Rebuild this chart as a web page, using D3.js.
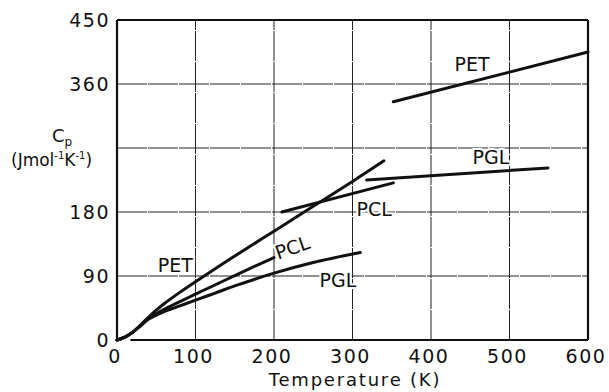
<!DOCTYPE html>
<html>
<head>
<meta charset="utf-8">
<script src="https://cdn.jsdelivr.net/npm/d3@7"></script>
<style>
  body { margin: 0; background: #fff; }
  text { font-family: "DejaVu Sans", sans-serif; fill: #111; }
</style>
</head>
<body>
<svg id="canvas" width="609" height="392"></svg>
<script>
// axis ticks
let tempTicks = [0, 100, 200, 300, 400, 500, 600]
let cpTicks = [0, 90, 180, 270, 360, 450]
let cpTickLabels = ['0', '90', '180', '', '360', '450']

// low temperature curves (K, J/mol/K)
let petLowT = [0, 10, 20, 30, 40, 50, 60, 80, 100, 150, 200, 250, 300, 340]
let petLowCp = [0, 4, 11, 21, 32, 42, 51, 67, 82, 118, 153, 188, 223, 252]
let pclLowT = [0, 10, 20, 30, 40, 50, 60, 80, 100, 125, 150, 175, 200]
let pclLowCp = [0, 4, 11, 20, 30, 37, 43, 54, 64.5, 77.5, 90.5, 103.5, 116]
let pglLowT = [0, 10, 20, 30, 40, 50, 60, 80, 100, 125, 150, 200, 250, 310]
let pglLowCp = [0, 4, 11, 20, 29, 35, 40, 48, 56, 66, 76, 94, 109, 123]

// high temperature lines
let petHighT = [352, 600]
let petHighCp = [335, 405]
let pglHighT = [318, 549]
let pglHighCp = [225, 242]
let pclHighT = [210, 352]
let pclHighCp = [180, 221]

let canvas = d3.select('#canvas')

let xScale = d3.scaleLinear().domain([0, 600]).range([117, 588])
let yScale = d3.scaleLinear().domain([0, 450]).range([340, 20])

// grid
canvas.selectAll('.vgrid')
    .data(tempTicks.slice(1, -1))
    .enter()
    .append('line')
    .attr('x1', (t) => xScale(t))
    .attr('x2', (t) => xScale(t))
    .attr('y1', yScale(0))
    .attr('y2', yScale(450))
    .attr('stroke', '#222')
    .attr('stroke-width', 1)
    .attr('stroke-dasharray', '30,1')

canvas.selectAll('.hgrid')
    .data(cpTicks.slice(1, -1))
    .enter()
    .append('line')
    .attr('x1', xScale(0))
    .attr('x2', xScale(600))
    .attr('y1', (c) => yScale(c))
    .attr('y2', (c) => yScale(c))
    .attr('stroke', '#222')
    .attr('stroke-width', 1)
    .attr('stroke-dasharray', '30,1')

// frame
let frame = canvas.append('g').attr('stroke', '#111').attr('stroke-width', 2.2).attr('fill', 'none')
frame.append('line').attr('x1', xScale(0)).attr('x2', xScale(0)).attr('y1', yScale(0)).attr('y2', yScale(450))
frame.append('line').attr('x1', xScale(0)).attr('x2', xScale(600)).attr('y1', yScale(450)).attr('y2', yScale(450))
frame.append('line').attr('x1', xScale(600)).attr('x2', xScale(600)).attr('y1', yScale(0)).attr('y2', yScale(450))
frame.append('line').attr('x1', xScale(17)).attr('x2', xScale(600)).attr('y1', yScale(0)).attr('y2', yScale(0))

// tick labels
canvas.selectAll('.ylab')
    .data(cpTicks)
    .enter()
    .append('text')
    .attr('x', 110)
    .attr('y', (c) => yScale(c) + 7)
    .attr('text-anchor', 'end')
    .attr('font-size', 19)
    .attr('letter-spacing', 1.5)
    .text((c, i) => cpTickLabels[i])

canvas.selectAll('.xlab')
    .data(tempTicks)
    .enter()
    .append('text')
    .attr('x', (t) => xScale(t) - 2)
    .attr('y', 363)
    .attr('text-anchor', 'middle')
    .attr('font-size', 19)
    .attr('letter-spacing', 1.5)
    .text((t) => t)

canvas.append('text')
    .attr('x', 355)
    .attr('y', 386)
    .attr('text-anchor', 'middle')
    .attr('font-size', 18)
    .attr('letter-spacing', 1.8)
    .text('Temperature  (K)')

let cpLabel = canvas.append('text')
    .attr('x', 52)
    .attr('y', 142)
    .attr('font-size', 18)
cpLabel.append('tspan').text('C')
cpLabel.append('tspan').attr('font-size', 12).attr('dy', 4).text('p')

let unitLabel = canvas.append('text')
    .attr('x', 11)
    .attr('y', 166)
    .attr('font-size', 17)
unitLabel.append('tspan').text('(Jmol')
unitLabel.append('tspan').attr('font-size', 10).attr('dy', -7).text('-1')
unitLabel.append('tspan').attr('dy', 7).text('K')
unitLabel.append('tspan').attr('font-size', 10).attr('dy', -7).text('-1')
unitLabel.append('tspan').attr('dy', 7).text(')')

// curves
let lineGen = d3.line()
    .x((d) => xScale(d[0]))
    .y((d) => yScale(d[1]))
    .curve(d3.curveCatmullRom.alpha(0.5))

let series = [
    [petLowT, petLowCp],
    [pclLowT, pclLowCp],
    [pglLowT, pglLowCp],
    [petHighT, petHighCp],
    [pglHighT, pglHighCp],
    [pclHighT, pclHighCp]
]

canvas.selectAll('.curve')
    .data(series)
    .enter()
    .append('path')
    .attr('d', (s) => lineGen(s[0].map((t, i) => [t, s[1][i]])))
    .attr('fill', 'none')
    .attr('stroke', '#111')
    .attr('stroke-width', 3)
    .attr('stroke-linecap', 'round')
    .attr('stroke-linejoin', 'round')

// curve labels
let labels = [
    {text: 'PET', t: 430, c: 378, rot: 0},
    {text: 'PGL', t: 453, c: 247, rot: 0},
    {text: 'PCL', t: 305, c: 174, rot: 0},
    {text: 'PCL', t: 205, c: 113, rot: -19},
    {text: 'PGL', t: 258, c: 74, rot: 0},
    {text: 'PET', t: 52, c: 95, rot: 0}
]

canvas.selectAll('.clab')
    .data(labels)
    .enter()
    .append('text')
    .attr('transform', (d) => 'translate(' + xScale(d.t) + ',' + yScale(d.c) + ') rotate(' + d.rot + ')')
    .attr('font-size', 19)
    .attr('stroke', '#fff')
    .attr('stroke-width', 4)
    .attr('paint-order', 'stroke')
    .text((d) => d.text)
</script>
</body>
</html>
